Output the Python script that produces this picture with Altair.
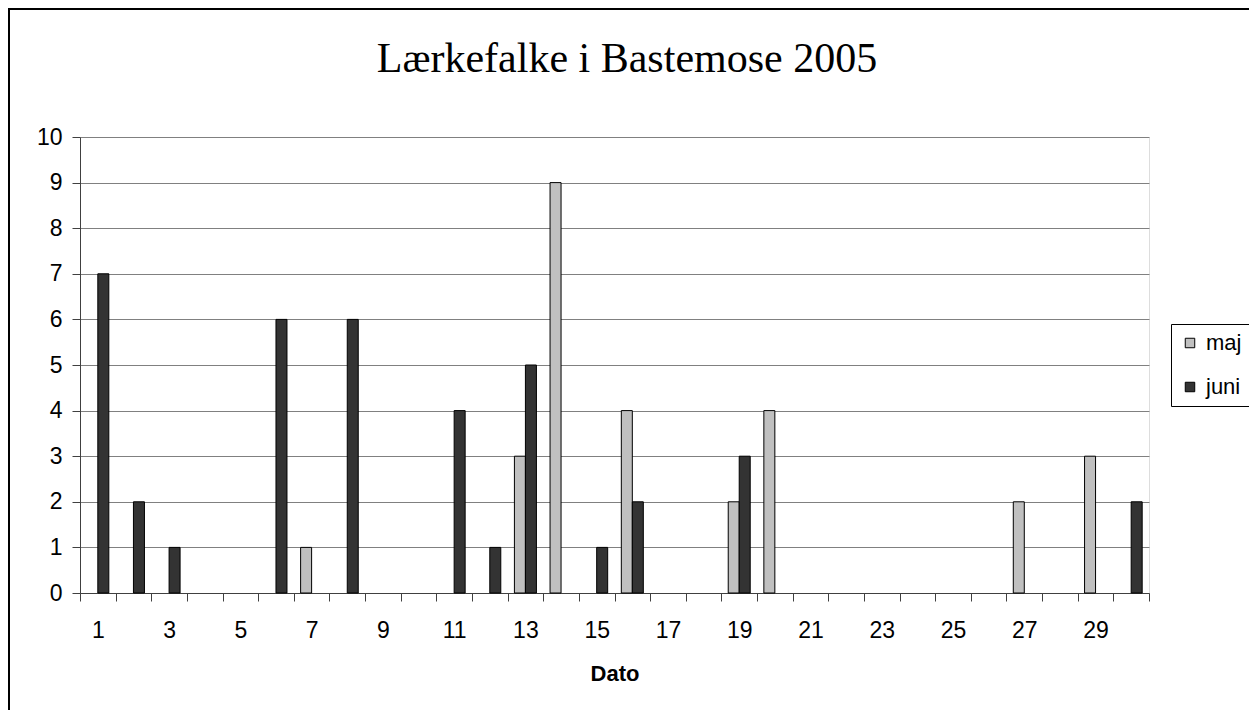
import altair as alt
import pandas as pd

title_text = "Lærkefalke i Bastemose 2005"
x_title = "Dato"
series_names = ["maj", "juni"]
series_colors = ["#C0C0C0", "#333333"]

days = list(range(1, 31))
maj = [0, 0, 0, 0, 0, 0, 1, 0, 0, 0,
       0, 0, 3, 9, 0, 4, 0, 0, 2, 4,
       0, 0, 0, 0, 0, 0, 2, 0, 3, 0]
juni = [7, 2, 1, 0, 0, 6, 0, 6, 0, 0,
        4, 1, 5, 0, 1, 2, 0, 0, 3, 0,
        0, 0, 0, 0, 0, 0, 0, 0, 0, 2]
y_ticks = list(range(0, 11))

rows = []
for d, a, b in zip(days, maj, juni):
    if a:
        rows.append({"dag": d, "serie": "maj", "antal": a})
    if b:
        rows.append({"dag": d, "serie": "juni", "antal": b})
df = pd.DataFrame(rows)

W, H = 1069, 456
PL, PT = 72, 129
TOTW, TOTH = 1241, 702

bars = alt.Chart(df).mark_bar(stroke="black", strokeWidth=1).encode(
    x=alt.X(
        "dag:O",
        scale=alt.Scale(domain=days, paddingInner=0, paddingOuter=0),
        axis=alt.Axis(
            title=x_title,
            titleFont="Liberation Sans",
            titleFontSize=22,
            titleFontWeight="bold",
            titleColor="black",
            titlePadding=21,
            labelFont="Liberation Sans",
            labelFontSize=23,
            labelColor="black",
            labelAngle=0,
            labelPadding=18,
            labelExpr="datum.value % 2 == 1 ? datum.label : ''",
            tickBand="extent",
            tickSize=8,
            tickColor="#404040",
            domainColor="#404040",
            grid=False,
        ),
    ),
    xOffset=alt.XOffset(
        "serie:N",
        scale=alt.Scale(domain=series_names, paddingInner=0, paddingOuter=0.62),
    ),
    y=alt.Y(
        "antal:Q",
        scale=alt.Scale(domain=[0, 10], nice=False),
        axis=alt.Axis(
            title=None,
            values=y_ticks,
            labelFont="Liberation Sans",
            labelFontSize=23,
            labelColor="black",
            labelPadding=10,
            tickSize=8,
            tickColor="#404040",
            domainColor="#404040",
            grid=True,
            gridColor="#808080",
            gridWidth=1,
        ),
    ),
    color=alt.Color(
        "serie:N",
        scale=alt.Scale(domain=series_names, range=series_colors),
        legend=alt.Legend(
            title=None,
            orient="none",
            legendX=1091,
            legendY=187,
            symbolType="square",
            symbolSize=90,
            symbolStrokeColor="black",
            symbolStrokeWidth=1,
            labelFont="Liberation Sans",
            labelFontSize=22,
            labelColor="black",
            labelOffset=5,
            rowPadding=22,
            padding=8,
            strokeColor="black",
            fillColor="white",
        ),
    ),
)

one = pd.DataFrame({"a": [0]})
frame_left = alt.Chart(one).mark_rule(color="black", strokeWidth=2).encode(
    x=alt.value(-PL + 1), y=alt.value(-PT + 1), y2=alt.value(TOTH)
)
frame_top = alt.Chart(one).mark_rule(color="black", strokeWidth=2).encode(
    x=alt.value(-PL), x2=alt.value(TOTW), y=alt.value(-PT + 1)
)

title_df = pd.DataFrame({"t": [title_text]})
title_mark = alt.Chart(title_df).mark_text(
    font="Liberation Serif",
    fontSize=42,
    color="black",
    align="center",
    baseline="alphabetic",
).encode(text="t:N", x=alt.value(547), y=alt.value(-65))

chart = alt.layer(bars, frame_left, frame_top, title_mark).properties(
    width=W,
    height=H,
    autosize=alt.AutoSizeParams(type="none"),
    padding={"left": PL, "top": PT, "right": TOTW - PL - W, "bottom": TOTH - PT - H},
).configure_view(stroke="#808080", strokeWidth=1).configure(background="white")

chart.save("out.html", embed_options={"renderer": "svg", "actions": False})
